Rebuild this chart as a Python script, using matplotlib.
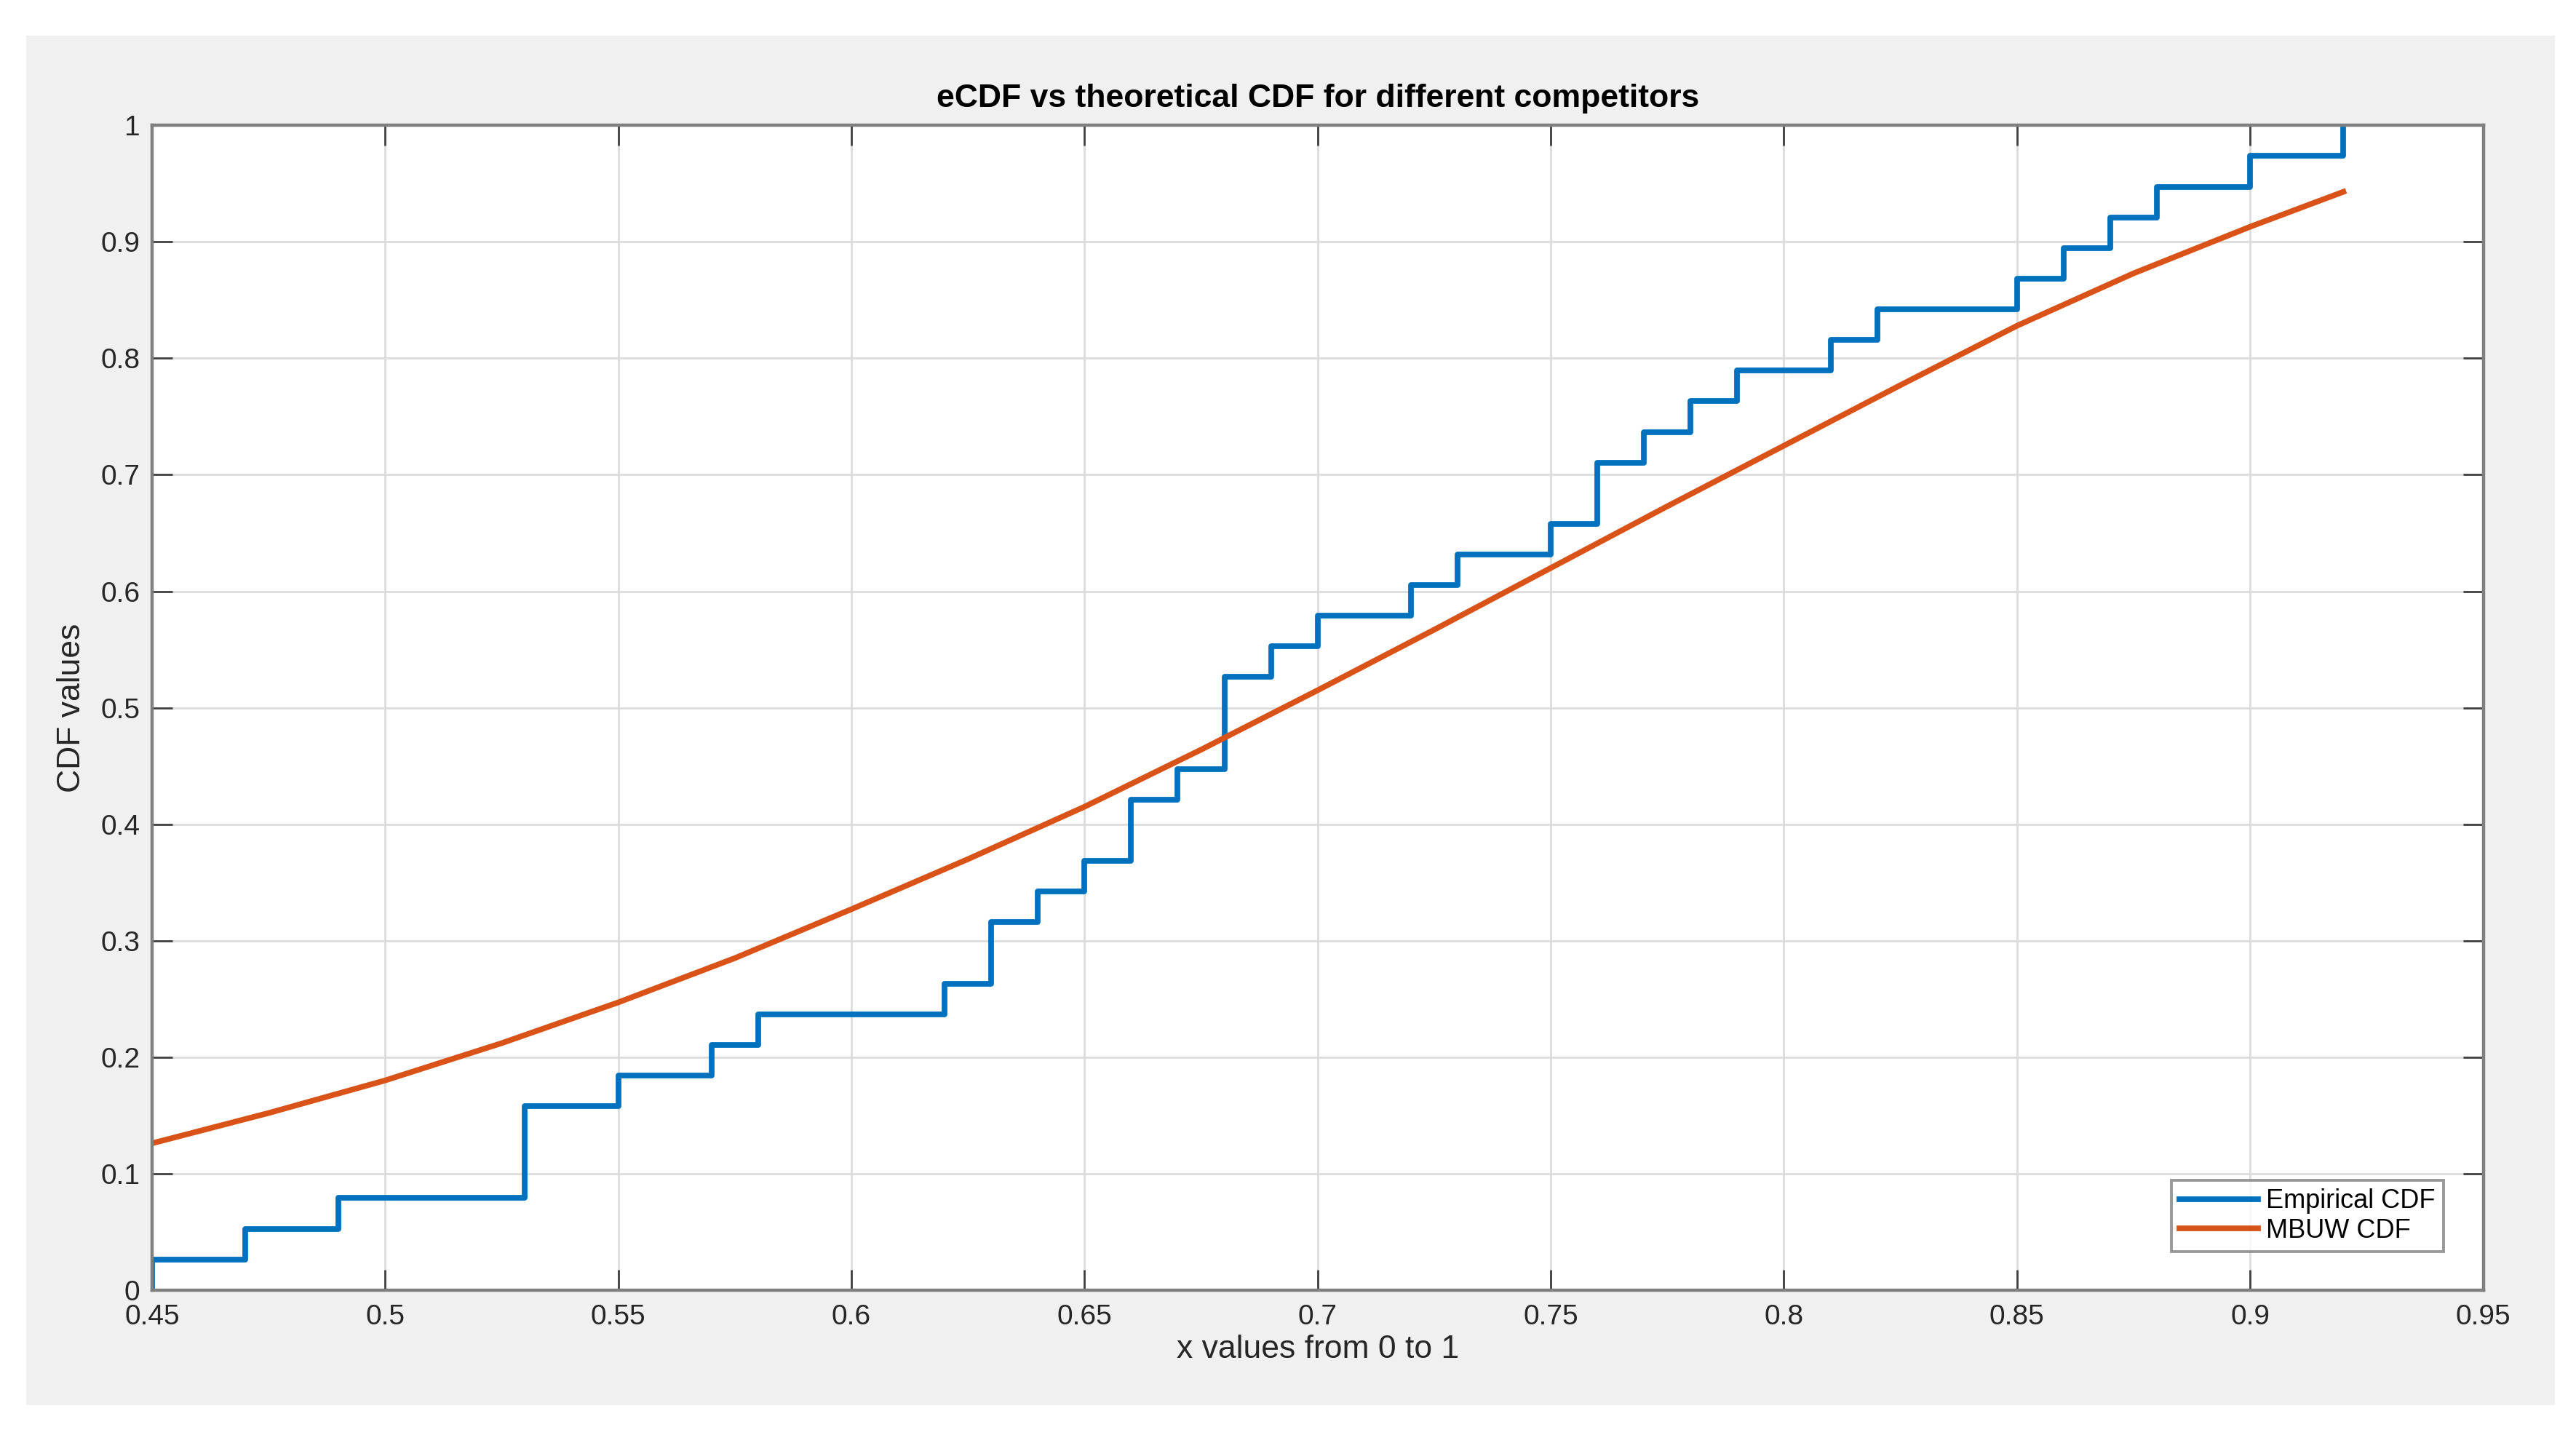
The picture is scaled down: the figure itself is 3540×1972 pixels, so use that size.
import matplotlib
matplotlib.use('Agg')
import matplotlib.pyplot as plt
from matplotlib.patches import Rectangle
import numpy as np

# DATOS
# muestras (n = 38)
muestras = [0.45, 0.47, 0.49, 0.53, 0.53, 0.53, 0.55, 0.57, 0.58, 0.62,
            0.63, 0.63, 0.64, 0.65, 0.66, 0.66, 0.67, 0.68, 0.68, 0.68,
            0.69, 0.70, 0.72, 0.73, 0.75, 0.76, 0.76, 0.77, 0.78, 0.79,
            0.81, 0.82, 0.85, 0.86, 0.87, 0.88, 0.90, 0.92]

# CDF teorica MBUW
xt = [0.45, 0.475, 0.5, 0.525, 0.55, 0.575, 0.6, 0.625, 0.65, 0.675,
      0.7, 0.725, 0.75, 0.775, 0.8, 0.825, 0.85, 0.875, 0.9, 0.92]
ft = [0.126, 0.152, 0.180, 0.212, 0.247, 0.285, 0.327, 0.370, 0.415, 0.464,
      0.515, 0.567, 0.620, 0.673, 0.725, 0.777, 0.828, 0.873, 0.913, 0.943]

xticks = [0.45, 0.5, 0.55, 0.6, 0.65, 0.7, 0.75, 0.8, 0.85, 0.9, 0.95]
xlabels = ['0.45', '0.5', '0.55', '0.6', '0.65', '0.7', '0.75', '0.8', '0.85', '0.9', '0.95']
yticks = [0, 0.1, 0.2, 0.3, 0.4, 0.5, 0.6, 0.7, 0.8, 0.9, 1]
ylabels = ['0', '0.1', '0.2', '0.3', '0.4', '0.5', '0.6', '0.7', '0.8', '0.9', '1']

# ecdf estilo MATLAB: (min, 0) y luego cada valor unico
xs = np.sort(np.array(muestras))
n = len(xs)
xu, cuenta = np.unique(xs, return_counts=True)
xe = np.concatenate([[xu[0]], xu])
fe = np.concatenate([[0.0], np.cumsum(cuenta) / n])

# GRAFICA
plt.rcParams['font.family'] = ['Liberation Sans', 'DejaVu Sans']
fig = plt.figure(figsize=(17.7, 9.86), dpi=200, facecolor='white')
fondo = Rectangle((0.0103, 0.021), 0.9814, 0.954,
                  transform=fig.transFigure, facecolor='#f0f0f0',
                  edgecolor='none', zorder=-10)
fig.patches.append(fondo)
ax = fig.add_axes([0.059, 0.101, 0.905, 0.8116])
ax.set_facecolor('white')

ax.step(xe, fe, where='post', color='#0072BD', lw=2.8, label='Empirical CDF')
ax.plot(xt, ft, color='#D95319', lw=2.8, label='MBUW CDF')

ax.set_xlim(0.45, 0.95)
ax.set_ylim(0, 1)
ax.set_xticks(xticks)
ax.set_xticklabels(xlabels)
ax.set_yticks(yticks)
ax.set_yticklabels(ylabels)
ax.grid(True, color='#dcdcdc', lw=1.0)
ax.set_axisbelow(True)
ax.tick_params(direction='in', length=10, width=1.0, color='#404040',
               labelsize=14, labelcolor='#262626', top=True, right=True)
ax.tick_params(axis='x', pad=7)
ax.tick_params(axis='y', pad=6)
for s in ax.spines.values():
    s.set_color('#808080')
    s.set_linewidth(1.6)

ax.set_title('eCDF vs theoretical CDF for different competitors',
             fontsize=16, fontweight='bold', color='black', pad=9)
ax.set_xlabel('x values from 0 to 1', fontsize=16, color='#262626', labelpad=2)
ax.set_ylabel('CDF values', fontsize=16, color='#262626', labelpad=7)

leg = ax.legend(loc='lower right', fontsize=13, frameon=True, fancybox=False,
                edgecolor='#808080', handlelength=3.0, handletextpad=0.3,
                borderpad=0.3, labelspacing=0.15, bbox_to_anchor=(0.9885, 0.022))
leg.get_frame().set_linewidth(1.4)

fig.savefig('out.png', dpi=200, facecolor='white')
